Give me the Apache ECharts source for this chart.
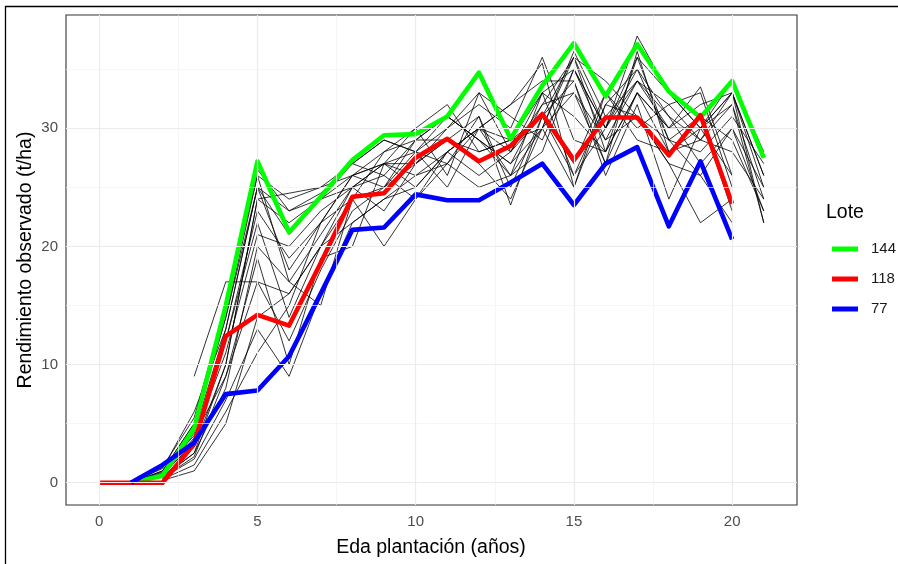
<!DOCTYPE html>
<html>
<head>
<meta charset="utf-8">
<script src="https://cdn.jsdelivr.net/npm/echarts@6/dist/echarts.min.js"></script>
<style>
html,body{margin:0;padding:0;background:#fff;}
#chart{width:898px;height:564px;}
</style>
</head>
<body>
<div id="chart"></div>
<script>
// Años de plantación (eje X)
const years = [0,1,2,3,4,5,6,7,8,9,10,11,12,13,14,15,16,17,18,19,20,21];
const xTicks = [0,5,10,15,20];
const yTicks = [0,10,20,30];
const xMinor = [2.5,7.5,12.5,17.5];
const yMinor = [5,15,25,35];

// Lotes destacados
const lote144 = [null,0,0.6,4.6,15,27.2,21.2,24.2,27.3,29.4,29.5,31.0,34.7,29.1,33.6,37.2,32.7,37.1,33.1,30.9,34.0,27.5];
const lote118 = [0,0,0,3.3,12.4,14.2,13.3,18.6,24.2,24.5,27.5,29.1,27.2,28.5,31.2,27.3,30.9,30.9,27.7,31.1,23.6,null];
const lote77  = [null,0,1.5,3.4,7.5,7.8,10.7,16.0,21.4,21.6,24.4,23.9,23.9,25.4,27.0,23.5,27.0,28.4,21.7,27.2,20.6,null];

// Resto de lotes (líneas negras)
const lote01 = [null,0,0.5,3.0,10,24,22,24,26,27,28,30,33,28,32,36,30,35,31,29,33,26];
const lote02 = [null,0,0.8,4.5,14,25,23,24.5,27,26,29,31,29,27,30,36.5,31,34,30,32,33,25];
const lote03 = [null,null,0.5,2.5,8,20,17,21,25,27,27,29,27,24,30,33,27,33,28,30,32,24];
const lote04 = [null,null,1,5,15,26,24,25,26,25,27,30,32,30,36,29,28,36,29,28,31,27];
const lote05 = [null,null,null,9,17,17,16,20,22,24,26,27,25,26,28,35,29,31,27,26,30,23];
const lote06 = [null,0,0.6,3.5,12,23,19,22,24,20,24,28,30,26,33,26,30,34,32,33,25,null];
const lote07 = [null,0,1.2,6,13,25,21,24,27,29,28,25,30,32,34,34,26,32,24,30,33,22];
const lote08 = [null,null,0.4,2,7,13,9,16,22,24,25,28,26,28,31,27,33,30,32,29,28,24];
const lote09 = [null,0,0.7,3.8,11,21,20,23,25,23,27,29,28,29,30,25,32,35,29,31,23,null];
const lote10 = [null,null,0.3,1.5,6,11,15,22,26,27,30,26,33,31,29,35,30,36,33,30,34,28];
const lote11 = [null,0,1,4,9,17,12,18,23,25,28,27,31,23.5,31,36,28,33,30,30,26,null];
const lote12 = [null,null,0.5,2.5,10,24,24.5,25,27,29,28,31,29,27,32,33,29,34,31,27,30,25];
const lote13 = [null,0,1.3,5.5,15,26.5,23,24,25,27,26,28,30,32,35.5,25,33,29,28,31,29,23];
const lote14 = [null,null,0.2,1,5,14,16,20,24,25,29,31,29,26,30,36,34,31,27,22,24,null];
const lote15 = [null,0,0.9,3.2,12,22,14,20,25,26,24,27,30,28,33,31,28,33,30,33.5,26,null];
const lote16 = [null,null,0.6,4.2,13,25,18,22,26,28,30,32,28,29,33,35,30,37.8,33,30,33,26];
const lote17 = [null,0,1,5,14,26,17,15,24,28,29,29,31,25,31,26,32,31,29,26,22,null];
const lote18 = [null,null,0.4,2.2,9,19,10,19,20,27,25,28,30,29,31,34,27,36.5,28,29,32,22];
const otrosLotes = [lote01,lote02,lote03,lote04,lote05,lote06,lote07,lote08,lote09,lote10,lote11,lote12,lote13,lote14,lote15,lote16,lote17,lote18];

const FONT = '"Liberation Sans", Arial, sans-serif';
const toPairs = arr => years.map((x,i)=>[x, arr[i]]);

const series = [];
// grid lines (minor then major)
series.push({
  type:'line', data:[], silent:true, z:0,
  markLine:{
    silent:true, symbol:'none', animation:false,
    label:{show:false},
    lineStyle:{color:'#F2F2F2', width:0.7, type:'solid'},
    data: xMinor.map(v=>({xAxis:v})).concat(yMinor.map(v=>({yAxis:v})))
  }
});
series.push({
  type:'line', data:[], silent:true, z:0,
  markLine:{
    silent:true, symbol:'none', animation:false,
    label:{show:false},
    lineStyle:{color:'#EBEBEB', width:1.2, type:'solid'},
    data: xTicks.map(v=>({xAxis:v})).concat(yTicks.map(v=>({yAxis:v})))
  }
});
otrosLotes.forEach((arr,k)=>{
  series.push({
    name:'otro'+k, type:'line', data:toPairs(arr), showSymbol:false, symbol:'none',
    lineStyle:{color:'#000', width:0.8}, silent:true, z:2, animation:false
  });
});
[['144',lote144,'#00FF00'],['118',lote118,'#FF0000'],['77',lote77,'#0000FF']].forEach(([n,arr,c])=>{
  series.push({
    name:n, type:'line', data:toPairs(arr), showSymbol:false, symbol:'none',
    lineStyle:{color:c, width:4.6, join:'round', cap:'butt'}, itemStyle:{color:c},
    z:3, animation:false
  });
});

const chart = echarts.init(document.getElementById('chart'), null, {renderer:'canvas'});
chart.setOption({
  animation:false,
  backgroundColor:'#fff',
  grid:{left:66, right:101, top:15, bottom:59, show:true, borderColor:'#333', borderWidth:1.1, backgroundColor:'transparent', containLabel:false},
  xAxis:{
    type:'value', min:-1.05, max:22.05,
    axisLine:{show:false},
    axisTick:{show:true, length:4, lineStyle:{color:'#333'}, customValues:xTicks},
    axisLabel:{color:'#4D4D4D', fontSize:15, fontFamily:FONT, margin:9, customValues:xTicks, showMinLabel:true, showMaxLabel:true},
    splitLine:{show:false}
  },
  yAxis:{
    type:'value', min:-1.885, max:39.58,
    axisLine:{show:false},
    axisTick:{show:true, length:4, lineStyle:{color:'#333'}, customValues:yTicks},
    axisLabel:{color:'#4D4D4D', fontSize:15, fontFamily:FONT, margin:8, customValues:yTicks, showMinLabel:true, showMaxLabel:true},
    splitLine:{show:false}
  },
  legend:{
    data:['144','118','77'], orient:'vertical', left:827, top:235,
    icon:'rect', itemWidth:26, itemHeight:5, itemGap:12,
    textStyle:{fontSize:15, fontFamily:FONT, color:'#1a1a1a', lineHeight:18, padding:[0,0,0,8]},
    selectedMode:false
  },
  graphic:[
    {type:'rect', silent:true, shape:{x:5.5, y:6.5, width:1000, height:1000}, style:{fill:'none', stroke:'#000', lineWidth:1.3}},
    {type:'text', silent:true, x:431, y:548, style:{text:'Eda plantación (años)', font:'19.5px '+FONT, fill:'#000', textAlign:'center', textVerticalAlign:'middle'}},
    {type:'text', silent:true, x:26, y:260, rotation:Math.PI/2, style:{text:'Rendimiento observado (t/ha)', font:'19.5px '+FONT, fill:'#000', textAlign:'center', textVerticalAlign:'middle'}},
    {type:'text', silent:true, x:826, y:213, style:{text:'Lote', font:'19.5px '+FONT, fill:'#000', textAlign:'left', textVerticalAlign:'middle'}}
  ],
  series: series
});
</script>
</body>
</html>
